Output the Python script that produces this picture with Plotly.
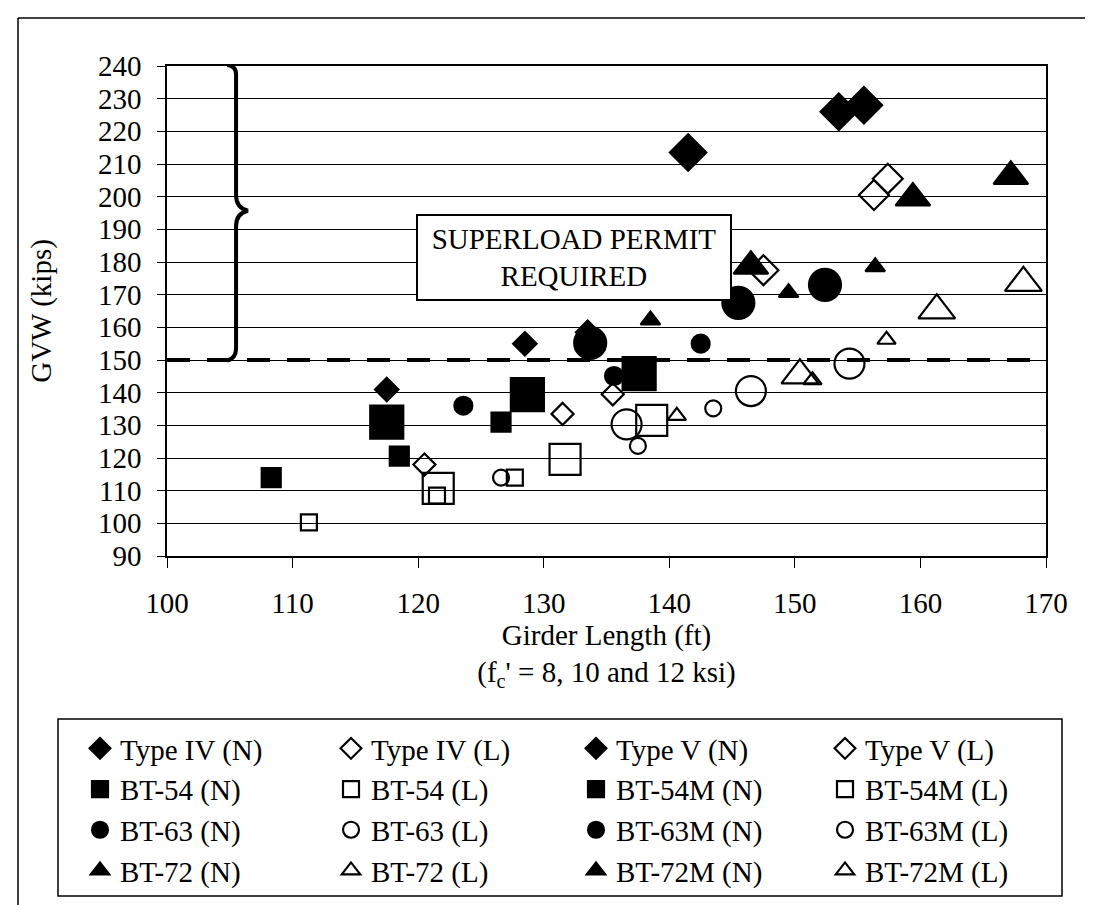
#!/usr/bin/env python
import plotly.graph_objects as go

FONT = 'Liberation Serif'

# series: girder length (ft) vs GVW (kips)
names = ['Type IV (N)', 'Type IV (L)', 'Type V (N)', 'Type V (L)',
         'BT-54 (N)', 'BT-54 (L)', 'BT-54M (N)', 'BT-54M (L)',
         'BT-63 (N)', 'BT-63 (L)', 'BT-63M (N)', 'BT-63M (L)',
         'BT-72 (N)', 'BT-72 (L)', 'BT-72M (N)', 'BT-72M (L)']

type4_n_x = [117.5, 128.5, 133.5]
type4_n_y = [141, 155, 158.5]
type4_l_x = [120.5, 131.5, 135.5]
type4_l_y = [118, 133.5, 139.5]
type5_n_x = [141.5, 153.5, 155.5]
type5_n_y = [213.5, 226, 228]
type5_l_x = [147.5, 156.3, 157.4]
type5_l_y = [177.5, 200.5, 205.5]

bt54_n_x = [108.3, 118.5, 126.6]
bt54_n_y = [114, 120.6, 131]
bt54_l_x = [111.3, 121.5, 127.7]
bt54_l_y = [100.3, 108.5, 114]
bt54m_n_x = [117.5, 128.7, 137.6]
bt54m_n_y = [131, 139.4, 145.8]
bt54m_l_x = [121.6, 131.7, 138.6]
bt54m_l_y = [110.7, 119.6, 131.5]

bt63_n_x = [123.6, 135.6, 142.5]
bt63_n_y = [136, 145.1, 155]
bt63_l_x = [126.6, 137.5, 143.5]
bt63_l_y = [114, 123.7, 135.2]
bt63m_n_x = [133.7, 145.5, 152.4]
bt63m_n_y = [155.2, 167.5, 173]
bt63m_l_x = [136.6, 146.5, 154.35]
bt63m_l_y = [130.3, 140.5, 148.9]

bt72_n_x = [138.5, 149.5, 156.4]
bt72_n_y = [162.2, 170.6, 178.5]
bt72_l_x = [140.6, 151.4, 157.3]
bt72_l_y = [132.9, 143.8, 156.2]
bt72m_n_x = [146.5, 159.4, 167.2]
bt72m_n_y = [178.7, 199.6, 206.2]
bt72m_l_x = [150.4, 161.3, 168.2]
bt72m_l_y = [145.3, 165.2, 173.6]

xs = [type4_n_x, type4_l_x, type5_n_x, type5_l_x, bt54_n_x, bt54_l_x, bt54m_n_x, bt54m_l_x,
      bt63_n_x, bt63_l_x, bt63m_n_x, bt63m_l_x, bt72_n_x, bt72_l_x, bt72m_n_x, bt72m_l_x]
ys = [type4_n_y, type4_l_y, type5_n_y, type5_l_y, bt54_n_y, bt54_l_y, bt54m_n_y, bt54m_l_y,
      bt63_n_y, bt63_l_y, bt63m_n_y, bt63m_l_y, bt72_n_y, bt72_l_y, bt72m_n_y, bt72m_l_y]

symbols = ['diamond', 'diamond-open', 'diamond', 'diamond-open',
           'square', 'square-open', 'square', 'square-open',
           'circle', 'circle-open', 'circle', 'circle-open',
           'triangle-up', 'triangle-up-open', 'triangle-up', 'triangle-up-open']
sizes = [18, 17, 28, 23, 19, 16, 33, 31, 18, 16, 32, 30, 17, 16, 30, 32]

THRESHOLD = 150

# one legend per column of the 4x4 key
LEG_IDS = ['legend', 'legend2', 'legend3', 'legend4']
LEG_X = [72, 323, 568, 817]   # px of each column's left edge

fig = go.Figure()
for i, (nm, x, y, sym, sz) in enumerate(zip(names, xs, ys, symbols, sizes)):
    fig.add_trace(go.Scatter(
        x=x, y=y, name=nm, mode='markers', legend=LEG_IDS[i % 4],
        marker=dict(symbol=sym, size=sz, color='black',
                    line=dict(color='black', width=2.2))
    ))

# permit threshold
fig.add_shape(type='line', xref='x', yref='y', x0=100, x1=170,
              y0=THRESHOLD, y1=THRESHOLD, layer='between',
              line=dict(color='black', width=4, dash='23px,17px'))
# curly brace
fig.add_shape(type='path', xref='x', yref='y', layer='above',
              path='M 104.8,240.3 Q 105.5,240 105.5,237.5 L 105.5,200.5 '
                   'Q 105.5,196.5 106.45,195.7 Q 105.5,194.9 105.5,191 '
                   'L 105.5,153.5 Q 105.5,150.5 104.8,149.8',
              line=dict(color='black', width=4))
fig.add_annotation(x=0.2833, y=0.697, xref='paper', yref='paper',
                   text='SUPERLOAD PERMIT<br>REQUIRED', showarrow=False,
                   font=dict(family=FONT, size=29, color='black'),
                   bgcolor='white', bordercolor='black', borderwidth=2,
                   borderpad=2, width=308, height=79)
# outer frame
for (x0, y0, x1, y1) in [(-0.1695, 1.098, -0.1695, -0.75), (-0.1695, 1.098, 1.0569, 1.098),
                         (1.0569, 1.098, 1.0569, -0.31)]:
    fig.add_shape(type='line', xref='paper', yref='paper', x0=x0, y0=y0, x1=x1, y1=y1,
                  line=dict(color='black', width=1.5))
# legend frame
fig.add_shape(type='rect', xref='paper', yref='paper', x0=-0.124, x1=1.0182,
              y0=-0.6939, y1=-0.3327, line=dict(color='black', width=1.5))

legends = {}
for lid, px in zip(LEG_IDS, LEG_X):
    legends[lid] = dict(x=(px - 159) / 879, y=-0.3408, xanchor='left', yanchor='top',
                        orientation='v', bgcolor='rgba(0,0,0,0)', borderwidth=0,
                        font=dict(family=FONT, size=29, color='black'))

fig.update_layout(
    width=1093, height=905,
    margin=dict(l=159, r=55, t=58, b=357),
    paper_bgcolor='white', plot_bgcolor='white',
    font=dict(family=FONT, size=29, color='black'),
    xaxis=dict(range=[100, 170], dtick=10, showgrid=False, zeroline=False,
               showline=True, linecolor='black', linewidth=1.5, mirror=True,
               ticks='outside', ticklen=10, tickcolor='black', ticklabelstandoff=10,
               title=dict(text="Girder Length (ft)<br>(f<sub>c</sub>' = 8, 10 and 12 ksi)",
                          standoff=6, font=dict(family=FONT, size=29, color='black'))),
    yaxis=dict(range=[90, 240], dtick=10, showgrid=True, gridcolor='black', gridwidth=1,
               zeroline=False, showline=True, linecolor='black', linewidth=1.5, mirror=True,
               ticks='outside', ticklen=8, tickcolor='black', ticklabelstandoff=10,
               title=dict(text='GVW (kips)', standoff=38,
                          font=dict(family=FONT, size=29, color='black'))),
    showlegend=True,
    **legends,
)

fig.write_html('out.html')
